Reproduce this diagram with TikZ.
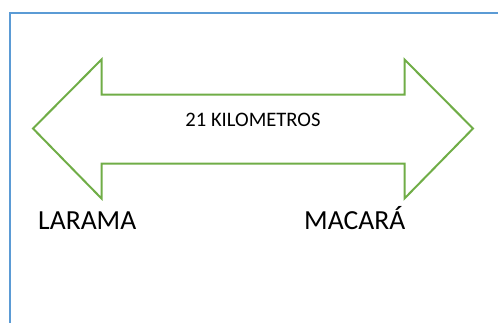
\documentclass[tikz,border=0pt]{standalone}
\usepackage{fontspec}
\setmainfont{Carlito}
\definecolor{frameblue}{HTML}{5B9BD5}
\definecolor{arrowgreen}{HTML}{70AD47}
\begin{document}
\begin{tikzpicture}[x=1pt,y=-1pt,
  framestyle/.style={draw=frameblue,line width=2pt},
  arrowshape/.style={draw=arrowgreen,line width=2pt,line join=miter},
  bigtext/.style={font=\fontsize{27.6}{32}\selectfont,inner sep=0pt},
  smalltext/.style={font=\fontsize{20.6}{24}\selectfont,inner sep=0pt}]
\useasboundingbox (0,0) rectangle (498,322);
\draw[framestyle] (10.3,340) -- (10.3,12.7) -- (520,12.7);
\draw[arrowshape] (33,128.5) -- (101.5,59.5) -- (101.5,94.5) -- (404.5,94.5) -- (404.5,59.5)
  -- (473,128.5) -- (404.5,198.5) -- (404.5,163.5) -- (101.5,163.5) -- (101.5,198.5) -- cycle;
\node[smalltext,anchor=base] (km) at (253,126.7) {21 KILOMETROS};
\node[bigtext,anchor=base west] (larama) at (38,229.3) {LARAMA};
\node[bigtext,anchor=base west] (macara) at (304,229.3) {MACARÁ};
\end{tikzpicture}
\end{document}
